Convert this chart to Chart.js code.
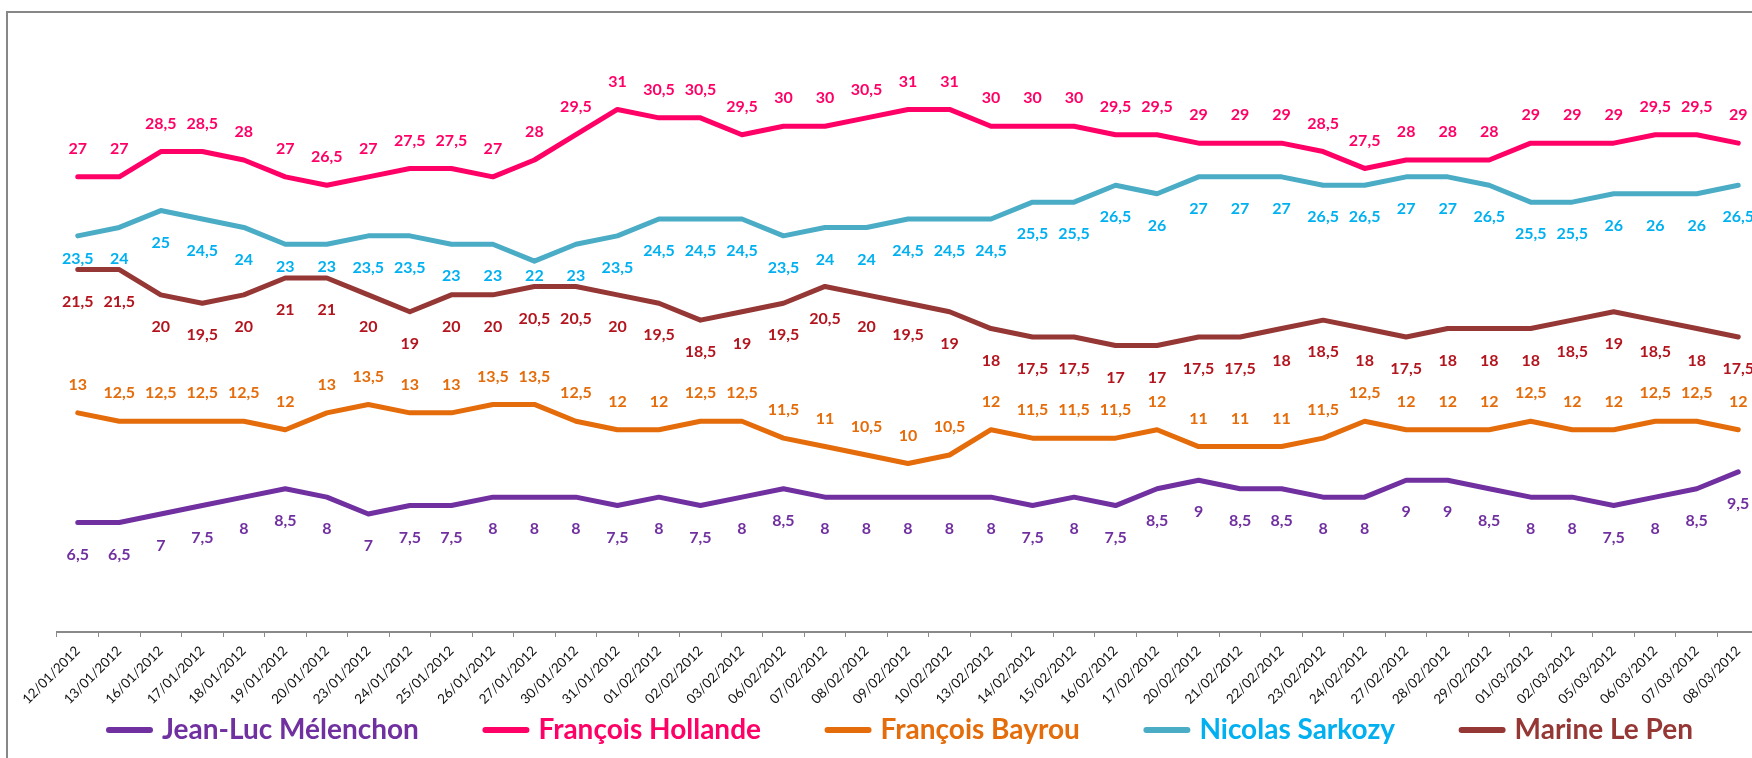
<!DOCTYPE html>
<html>
<head>
<meta charset="utf-8">
<script src="https://cdn.jsdelivr.net/npm/chart.js@4.4.1/dist/chart.umd.min.js"></script>
<style>
  html, body { margin: 0; padding: 0; background: #fff; overflow: hidden; }
  #wrap { width: 1780px; height: 758px; }
</style>
</head>
<body>
<div id="wrap"><canvas id="chart" width="1780" height="758"></canvas></div>
<script>
// poll dates (x categories)
const dates = ['12/01/2012', '13/01/2012', '16/01/2012', '17/01/2012', '18/01/2012', '19/01/2012', '20/01/2012',
  '23/01/2012', '24/01/2012', '25/01/2012', '26/01/2012', '27/01/2012', '30/01/2012', '31/01/2012',
  '01/02/2012', '02/02/2012', '03/02/2012', '06/02/2012', '07/02/2012', '08/02/2012', '09/02/2012',
  '10/02/2012', '13/02/2012', '14/02/2012', '15/02/2012', '16/02/2012', '17/02/2012', '20/02/2012',
  '21/02/2012', '22/02/2012', '23/02/2012', '24/02/2012', '27/02/2012', '28/02/2012', '29/02/2012',
  '01/03/2012', '02/03/2012', '05/03/2012', '06/03/2012', '07/03/2012', '08/03/2012'];

const melenchon = [6.5, 6.5, 7, 7.5, 8, 8.5, 8, 7, 7.5, 7.5, 8, 8, 8, 7.5, 8, 7.5, 8, 8.5, 8, 8, 8,
  8, 8, 7.5, 8, 7.5, 8.5, 9, 8.5, 8.5, 8, 8, 9, 9, 8.5, 8, 8, 7.5, 8, 8.5, 9.5];
const hollande = [27, 27, 28.5, 28.5, 28, 27, 26.5, 27, 27.5, 27.5, 27, 28, 29.5, 31, 30.5, 30.5, 29.5, 30, 30, 30.5, 31,
  31, 30, 30, 30, 29.5, 29.5, 29, 29, 29, 28.5, 27.5, 28, 28, 28, 29, 29, 29, 29.5, 29.5, 29];
const bayrou = [13, 12.5, 12.5, 12.5, 12.5, 12, 13, 13.5, 13, 13, 13.5, 13.5, 12.5, 12, 12, 12.5, 12.5, 11.5, 11, 10.5, 10,
  10.5, 12, 11.5, 11.5, 11.5, 12, 11, 11, 11, 11.5, 12.5, 12, 12, 12, 12.5, 12, 12, 12.5, 12.5, 12];
const sarkozy = [23.5, 24, 25, 24.5, 24, 23, 23, 23.5, 23.5, 23, 23, 22, 23, 23.5, 24.5, 24.5, 24.5, 23.5, 24, 24, 24.5,
  24.5, 24.5, 25.5, 25.5, 26.5, 26, 27, 27, 27, 26.5, 26.5, 27, 27, 26.5, 25.5, 25.5, 26, 26, 26, 26.5];
const lePen = [21.5, 21.5, 20, 19.5, 20, 21, 21, 20, 19, 20, 20, 20.5, 20.5, 20, 19.5, 18.5, 19, 19.5, 20.5, 20, 19.5,
  19, 18, 17.5, 17.5, 17, 17, 17.5, 17.5, 18, 18.5, 18, 17.5, 18, 18, 18, 18.5, 19, 18.5, 18, 17.5];

const FONT = 'Lato, "Open Sans", sans-serif';

// outer grey frame of the chart
const frame = {
  id: 'frame',
  beforeDraw(chart) {
    const ctx = chart.ctx;
    ctx.save();
    ctx.strokeStyle = '#878787';
    ctx.lineWidth = 2;
    ctx.strokeRect(7, 12, 3000, 3000);
    ctx.restore();
  }
};

// value labels with a decimal comma, above or below each point;
// a label is pulled back toward its own line when another line is in the way
const valueLabels = {
  id: 'valueLabels',
  afterDatasetsDraw(chart) {
    const ctx = chart.ctx;
    const clear = 11;
    const metas = chart.data.datasets.map((ds, i) => chart.getDatasetMeta(i));
    ctx.save();
    ctx.font = 'bold 16px ' + FONT;
    ctx.textAlign = 'center';
    ctx.textBaseline = 'middle';
    chart.data.datasets.forEach((ds, i) => {
      ctx.fillStyle = ds.labelColor;
      metas[i].data.forEach((pt, j) => {
        let y = pt.y + ds.labelOffset;
        metas.forEach((m, k) => {
          if (k === i) return;
          const oy = m.data[j].y;
          if (ds.labelOffset > 0 && oy > pt.y && oy < y + clear) y = oy - clear;
          if (ds.labelOffset < 0 && oy < pt.y && oy > y - clear) y = oy + clear;
        });
        const txt = String(ds.data[j]).replace('.', ',');
        ctx.fillText(txt, pt.x, y);
      });
    });
    ctx.restore();
  }
};

// one-row legend, coloured text like the original
const legendRow = {
  id: 'legendRow',
  afterDraw(chart) {
    const ctx = chart.ctx;
    const lineLen = 47, gapText = 9;
    const left = 106, right = 1693;
    const y = chart.height - 28;
    ctx.save();
    ctx.font = 'bold 28px ' + FONT;
    const items = chart.data.datasets.map(ds => ({ds, w: ctx.measureText(ds.label).width}));
    let used = 0;
    items.forEach(it => { used += lineLen + gapText + it.w; });
    const gapItem = (right - left - used) / (items.length - 1);
    let x = left;
    items.forEach(it => {
      ctx.strokeStyle = it.ds.borderColor;
      ctx.lineWidth = 6;
      ctx.lineCap = 'round';
      ctx.beginPath();
      ctx.moveTo(x + 3, y);
      ctx.lineTo(x + lineLen - 3, y);
      ctx.stroke();
      ctx.fillStyle = it.ds.legendColor;
      ctx.textBaseline = 'middle';
      ctx.textAlign = 'left';
      ctx.fillText(it.ds.label, x + lineLen + gapText, y);
      x += lineLen + gapText + it.w + gapItem;
    });
    ctx.restore();
  }
};

function series(label, data, line, text, legendText, offset) {
  return {
    label: label,
    data: data,
    borderColor: line,
    backgroundColor: line,
    labelColor: text,
    legendColor: legendText,
    labelOffset: offset,
    borderWidth: 5,
    borderCapStyle: 'round',
    borderJoinStyle: 'round',
    pointRadius: 0,
    tension: 0,
    fill: false
  };
}

new Chart(document.getElementById('chart'), {
  type: 'line',
  data: {
    labels: dates,
    datasets: [
      series('Jean-Luc Mélenchon', melenchon, '#7030A0', '#7030A0', '#7030A0', 32),
      series('François Hollande', hollande, '#FF0066', '#FF0066', '#FF0066', -28),
      series('François Bayrou', bayrou, '#E46C0A', '#E46C0A', '#E46C0A', -28),
      series('Nicolas Sarkozy', sarkozy, '#4BACC6', '#00B0F0', '#00B0F0', 32),
      series('Marine Le Pen', lePen, '#953735', '#B3151F', '#953735', 32)
    ]
  },
  options: {
    responsive: false,
    animation: false,
    devicePixelRatio: 1,
    layout: { padding: { left: 57, right: 21, top: 42, bottom: 46 } },
    scales: {
      x: {
        offset: true,
        grid: { display: true, drawOnChartArea: false, drawTicks: true, tickLength: 5, color: '#898989', offset: true },
        border: { display: true, color: '#898989', width: 2 },
        ticks: {
          autoSkip: false,
          maxRotation: 45,
          minRotation: 45,
          padding: 6,
          color: '#111',
          font: { family: FONT, size: 13.5 }
        },
        afterFit: function(scale) { scale.height = 80; }
      },
      y: { display: false, min: 0, max: 35 }
    },
    plugins: {
      legend: { display: false },
      tooltip: { enabled: false }
    }
  },
  plugins: [frame, valueLabels, legendRow]
});
</script>
</body>
</html>
